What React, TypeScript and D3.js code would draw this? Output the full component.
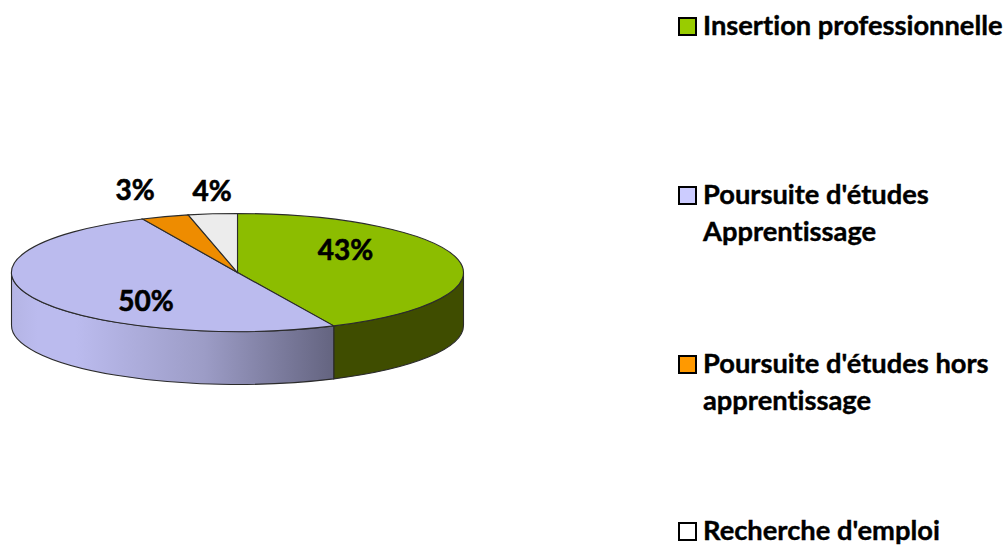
import React from 'react';
import * as d3 from 'd3';

const categories = ['Insertion professionnelle', "Poursuite d'études Apprentissage", "Poursuite d'études hors apprentissage", "Recherche d'emploi"];
const values = [43, 50.1, 3.4, 3.5];
const valueLabels = ['43%', '50%', '3%', '4%'];
const topColors = ['#8cbd00', '#bbbbee', '#ee8c00', '#ececec'];
const swatchColors = ['#99cc00', '#ccccff', '#ff9900', '#ffffff'];

const legendLines = [
  ['Insertion professionnelle'],
  ["Poursuite d'études", 'Apprentissage'],
  ["Poursuite d'études hors", 'apprentissage'],
  ["Recherche d'emploi"],
];
const legendY = [35, 204, 373, 540];
const labelPos = [[345.5, 260], [146, 311], [135, 200], [212, 201]];

const W = 1008;
const H = 546;
const cx = 237.5;
const cy = 272.5;
const rx = 226;
const ry = 59;
const depth = 53;
const font = 'Lato, Carlito, Calibri, sans-serif';

// angle clockwise from the top -> point on the flattened rim
const px = (a: number) => cx + rx * Math.sin(a);
const py = (a: number) => cy - ry * Math.cos(a);

// front wall of a slice, only the part facing the viewer
function wall(a0: number, a1: number) {
  const s = Math.max(a0, Math.PI / 2);
  const e = Math.min(a1, (3 * Math.PI) / 2);
  if (e <= s) return null;
  return `M${px(s)},${py(s)} A${rx},${ry} 0 0 1 ${px(e)},${py(e)} L${px(e)},${py(e) + depth} A${rx},${ry} 0 0 0 ${px(s)},${py(s) + depth} Z`;
}

export default function App() {
  const slices = d3.pie<number>().sort(null)(values);
  const arc = d3.arc<d3.PieArcDatum<number>>().innerRadius(0).outerRadius(rx);

  return (
    <svg width={W} height={H} style={{ position: 'absolute', left: 0, top: 0, background: '#fff' }}>
      <defs>
        <linearGradient id="wallPurple" gradientUnits="userSpaceOnUse" x1={cx - rx} x2={cx + 96} y1={0} y2={0}>
          <stop offset="0" stopColor="#b4b4e4" />
          <stop offset="0.08" stopColor="#bbbbee" />
          <stop offset="0.2" stopColor="#bbbbee" />
          <stop offset="0.6" stopColor="#9c9cc6" />
          <stop offset="1" stopColor="#646480" />
        </linearGradient>
      </defs>

      {slices.map((d, i) => {
        const p = wall(d.startAngle, d.endAngle);
        if (!p) return null;
        return <path key={i} d={p} fill={i === 0 ? '#3f4d00' : 'url(#wallPurple)'} stroke="#2b2b2b" strokeWidth={1.1} />;
      })}

      <g transform={`translate(${cx},${cy}) scale(1,${ry / rx})`}>
        {slices.map((d, i) => (
          <path key={i} d={arc(d) as string} fill={topColors[i]} stroke="#2b2b2b" strokeWidth={1.1} vectorEffect="non-scaling-stroke" />
        ))}
      </g>

      {valueLabels.map((t, i) => (
        <text key={t} x={labelPos[i][0]} y={labelPos[i][1]} textAnchor="middle" fontFamily={font} fontWeight={700} fontSize={28} fill="#000" stroke="#000" strokeWidth={0.6}>{t}</text>
      ))}

      {categories.map((c, i) => (
        <g key={c}>
          <rect x={679} y={legendY[i] - 17} width={17} height={17} fill={swatchColors[i]} stroke="#000" strokeWidth={2} />
          {legendLines[i].map((line, j) => (
            <text key={line} x={703} y={legendY[i] + j * 36.5} fontFamily={font} fontWeight={700} fontSize={27.3} fill="#000" stroke="#000" strokeWidth={0.4} style={{ fontVariantLigatures: 'none' }}>{line}</text>
          ))}
        </g>
      ))}
    </svg>
  );
}
